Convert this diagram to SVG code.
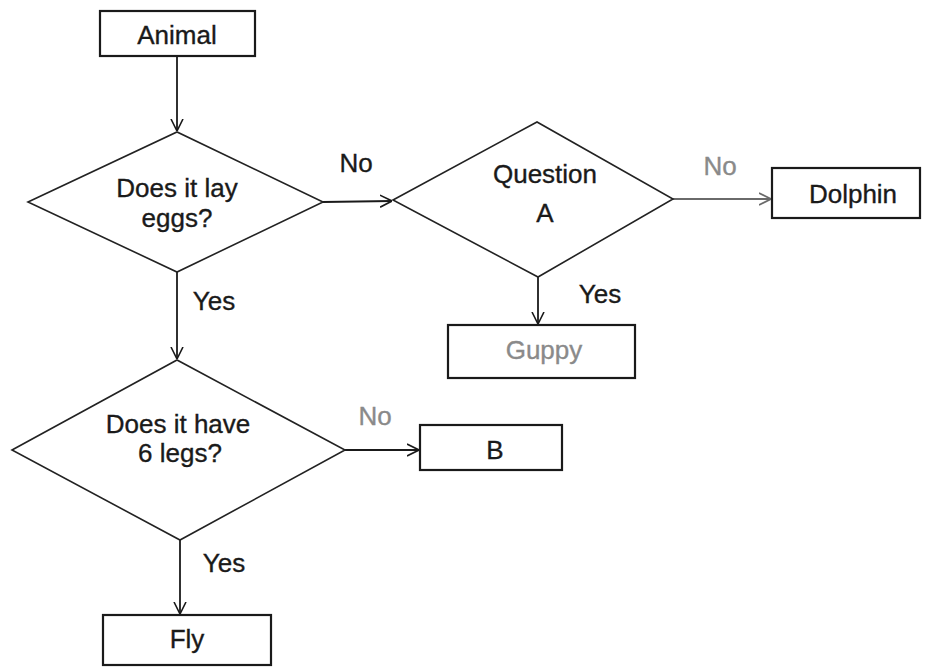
<svg xmlns="http://www.w3.org/2000/svg" width="932" height="668" viewBox="0 0 932 668">
<defs>
<style>
.box{fill:#fff;stroke:#1a1a1a;stroke-width:2.2}
.dia{fill:#fff;stroke:#222;stroke-width:1.6}
.t{font-family:"Liberation Sans",Arial,sans-serif;font-size:26px;fill:#1a1a1a;stroke:#1a1a1a;stroke-width:0.35;text-anchor:middle}
.g{fill:#8a8a8a;stroke:#8a8a8a}
.c{fill:none;stroke:#1a1a1a;stroke-width:1.8;marker-end:url(#ah)}
.cg{stroke:#6a6a6a;marker-end:url(#ahg)}
</style>
<marker id="ah" viewBox="0 0 12 14" refX="12" refY="7" markerWidth="12" markerHeight="14" markerUnits="userSpaceOnUse" orient="auto">
<path d="M0,1 L12,7 L0,13" fill="none" stroke="#1a1a1a" stroke-width="1.6"/>
</marker>
<marker id="ahg" viewBox="0 0 12 14" refX="12" refY="7" markerWidth="12" markerHeight="14" markerUnits="userSpaceOnUse" orient="auto">
<path d="M0,1 L12,7 L0,13" fill="none" stroke="#6a6a6a" stroke-width="1.6"/>
</marker>
</defs>
<rect width="932" height="668" fill="#fff"/>
<g id="connectors">
<line class="c" x1="177" y1="56" x2="177" y2="131"/>
<line class="c" x1="323" y1="202" x2="392" y2="201"/>
<line class="c cg" x1="673" y1="199" x2="771" y2="199"/>
<line class="c" x1="538" y1="277" x2="538" y2="324"/>
<line class="c" x1="177" y1="272" x2="177" y2="359"/>
<line class="c" x1="345" y1="450" x2="419" y2="450"/>
<line class="c" x1="180" y1="540" x2="180" y2="614"/>
<text class="t" x="356" y="172">No</text>
<text class="t g" x="720" y="175">No</text>
<text class="t" x="600" y="303">Yes</text>
<text class="t" x="214" y="310">Yes</text>
<text class="t g" x="375" y="425">No</text>
<text class="t" x="224" y="572">Yes</text>
</g>
<g id="animal">
<rect class="box" x="100" y="11" width="155" height="45"/>
<text class="t" x="177" y="44">Animal</text>
</g>
<g id="lay-eggs">
<polygon class="dia" points="28,202 177,132 323,202 177,272"/>
<text class="t" x="177" y="197">Does it lay</text>
<text class="t" x="177" y="227">eggs?</text>
</g>
<g id="question-a">
<polygon class="dia" points="393,200 537,122 673,199 538,277"/>
<text class="t" x="545" y="183">Question</text>
<text class="t" x="545" y="222">A</text>
</g>
<g id="dolphin">
<rect class="box" x="772" y="168" width="148" height="50"/>
<text class="t" x="853" y="203">Dolphin</text>
</g>
<g id="guppy">
<rect class="box" x="448" y="325" width="187" height="53"/>
<text class="t g" x="544" y="359">Guppy</text>
</g>
<g id="six-legs">
<polygon class="dia" points="12,450 177,360 345,450 180,540"/>
<text class="t" x="178" y="433">Does it have</text>
<text class="t" x="180" y="462">6 legs?</text>
</g>
<g id="b">
<rect class="box" x="420" y="425" width="142" height="45"/>
<text class="t" x="495" y="459">B</text>
</g>
<g id="fly">
<rect class="box" x="103" y="615" width="168" height="50"/>
<text class="t" x="187" y="648">Fly</text>
</g>
</svg>
